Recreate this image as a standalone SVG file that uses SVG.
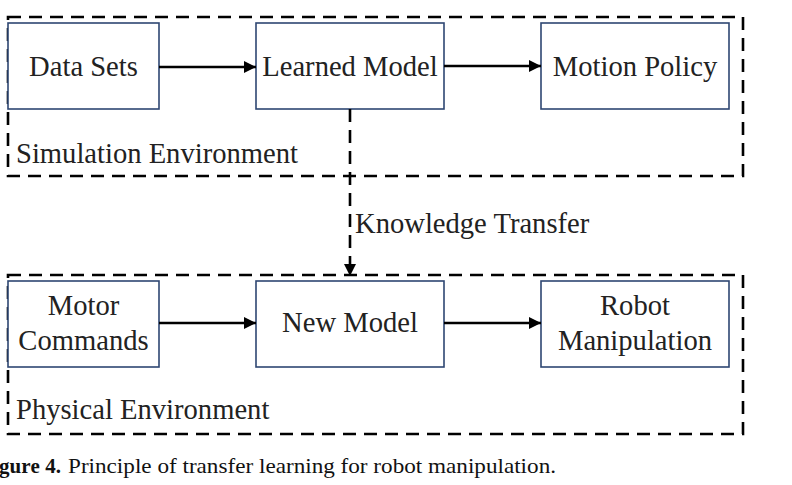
<svg xmlns="http://www.w3.org/2000/svg" width="792" height="485" viewBox="0 0 792 485">
<defs>
<style>
.box{fill:#fff;stroke:#2E4672;stroke-width:1.6}
.env{fill:none;stroke:#000;stroke-width:2.6;stroke-dasharray:13 8}
.arr{stroke:#000;stroke-width:2.6;fill:none}
</style>
<marker id="ah" viewBox="0 0 10 10" refX="10" refY="5" markerWidth="16" markerHeight="12" markerUnits="userSpaceOnUse" orient="auto">
<path d="M0,0 L10,5 L0,10 Z" fill="#000"/>
</marker>
</defs>
<rect width="792" height="485" fill="#fff"/>
<g font-family="'Liberation Serif', 'Times New Roman', 'DejaVu Serif', serif" font-size="28.6" fill="#222">
<g id="sim-env">
<rect class="env" x="8" y="17" width="735" height="159"/>
<text x="16" y="163">Simulation Environment</text>
</g>
<g id="phys-env">
<rect class="env" x="8" y="275" width="735" height="159"/>
<text x="16" y="419">Physical Environment</text>
</g>
<g id="data-sets">
<rect class="box" x="8" y="23" width="151" height="86"/>
<text x="83.5" y="76" text-anchor="middle">Data Sets</text>
</g>
<g id="learned-model">
<rect class="box" x="256" y="23" width="188" height="86"/>
<text x="350" y="76" text-anchor="middle">Learned Model</text>
</g>
<g id="motion-policy">
<rect class="box" x="541" y="23" width="188" height="86"/>
<text x="635" y="76" text-anchor="middle">Motion Policy</text>
</g>
<g id="motor-commands">
<rect class="box" x="8" y="281" width="151" height="86"/>
<text x="83.5" y="315" text-anchor="middle">Motor</text>
<text x="83.5" y="350" text-anchor="middle">Commands</text>
</g>
<g id="new-model">
<rect class="box" x="256" y="281" width="188" height="86"/>
<text x="350" y="332" text-anchor="middle">New Model</text>
</g>
<g id="robot-manipulation">
<rect class="box" x="541" y="281" width="188" height="86"/>
<text x="635" y="315" text-anchor="middle">Robot</text>
<text x="635" y="350" text-anchor="middle">Manipulation</text>
</g>
<g id="connectors">
<line class="arr" x1="159" y1="67" x2="256" y2="67" marker-end="url(#ah)"/>
<line class="arr" x1="444" y1="66" x2="541" y2="66" marker-end="url(#ah)"/>
<line class="arr" x1="159" y1="323" x2="256" y2="323" marker-end="url(#ah)"/>
<line class="arr" x1="444" y1="323" x2="541" y2="323" marker-end="url(#ah)"/>
<line class="arr" x1="350" y1="109" x2="350" y2="276" stroke-dasharray="13 8" marker-end="url(#ah)"/>
<text x="355" y="233">Knowledge Transfer</text>
</g>
<g id="caption" font-size="21" fill="#111">
<text x="-1" y="473"><tspan font-weight="bold" textLength="62">gure 4.</tspan><tspan x="68" textLength="488" lengthAdjust="spacingAndGlyphs">Principle of transfer learning for robot manipulation.</tspan></text>
</g>
</g>
</svg>
